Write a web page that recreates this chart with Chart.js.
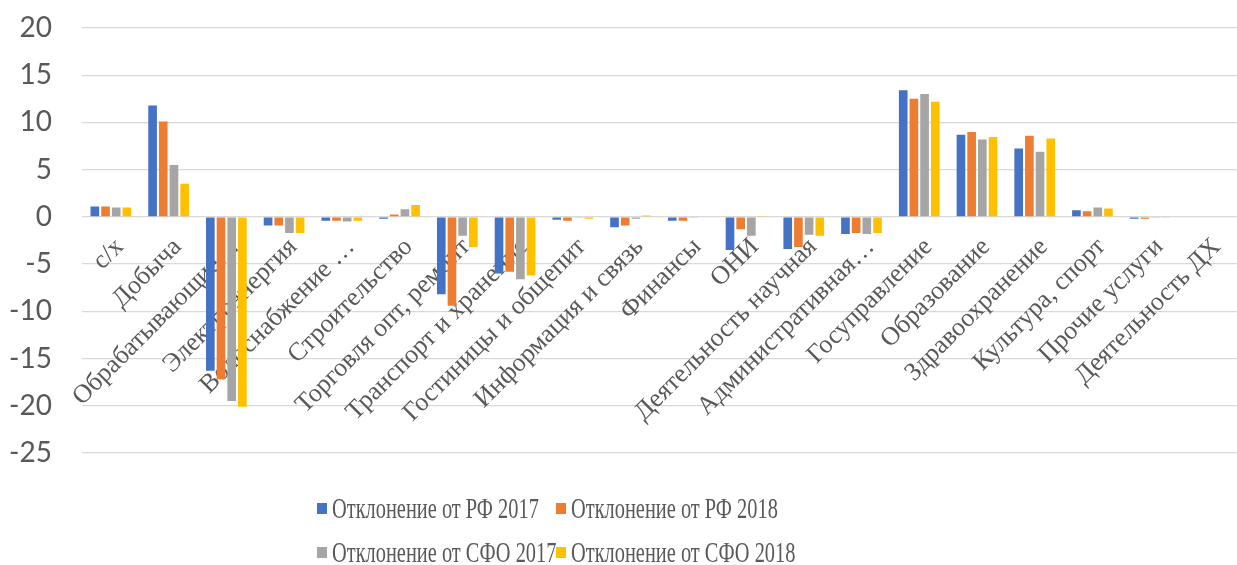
<!DOCTYPE html>
<html>
<head>
<meta charset="utf-8">
<script src="https://cdn.jsdelivr.net/npm/chart.js@4.4.1/dist/chart.umd.min.js"></script>
<style>
  body { margin: 0; background: #fff; width: 1237px; height: 565px; overflow: hidden; }
  #wrap { position: absolute; left: 0; top: 0; width: 1237px; height: 480px; }
  #legend { position: absolute; left: 0; top: 0; width: 1237px; height: 565px; pointer-events: none;
            font-family: "Liberation Serif", serif; color: #595959; font-size: 30px; }
  .item { position: absolute; display: flex; align-items: center; white-space: nowrap; }
  .sw { width: 10px; height: 11px; margin-right: 5px; flex: none; }
  .txt { display: inline-block; transform: scaleX(0.68); transform-origin: left center; }
</style>
</head>
<body>
<div id="wrap"><canvas id="chart" width="1237" height="480"></canvas></div>
<div id="legend"></div>
<script>
var categories = ["с/х", "Добыча", "Обрабатывающие…", "Электроэнергия", "Водоснабжение …",
  "Строительство", "Торговля опт, ремонт", "Транспорт и хранение", "Гостиницы и общепит",
  "Информация и связь", "Финансы", "ОНИ", "Деятельность научная", "Административная…",
  "Госуправление", "Образование", "Здравоохранение", "Культура, спорт", "Прочие услуги",
  "Деятельность ДХ"];

var rf2017  = [1.1, 11.8, -16.3, -0.9, -0.4, -0.2, -8.2, -6.0, -0.3, -1.1, -0.4, -3.5, -3.4, -1.8, 13.4, 8.7, 7.25, 0.7, -0.2, 0];
var rf2018  = [1.1, 10.1, -17.2, -0.9, -0.4, 0.25, -9.4, -5.8, -0.4, -0.9, -0.4, -1.3, -3.2, -1.7, 12.5, 9.0, 8.6, 0.6, -0.2, 0];
var sfo2017 = [1.0, 5.5, -19.5, -1.7, -0.5, 0.8, -2.0, -6.6, -0.05, -0.2, -0.1, -2.0, -1.9, -1.8, 13.0, 8.2, 6.9, 1.0, -0.05, 0];
var sfo2018 = [1.0, 3.5, -20.1, -1.7, -0.4, 1.25, -3.2, -6.2, -0.2, 0.15, 0, 0.05, -2.0, -1.7, 12.2, 8.45, 8.3, 0.9, -0.05, 0];

var seriesNames = ["Отклонение от РФ 2017", "Отклонение от РФ 2018", "Отклонение от СФО 2017", "Отклонение от СФО 2018"];
var colors = ["#4472C4", "#ED7D31", "#A5A5A5", "#FFC000"];
var values = [rf2017, rf2018, sfo2017, sfo2018];

var datasets = [];
for (var i = 0; i < values.length; i++) {
  datasets.push({
    label: seriesNames[i],
    data: values[i],
    backgroundColor: colors[i],
    categoryPercentage: 0.74,
    barPercentage: 0.81
  });
}

var ctx = document.getElementById("chart");
new Chart(ctx, {
  type: "bar",
  data: { labels: categories, datasets: datasets },
  options: {
    responsive: false,
    animation: false,
    layout: { padding: { top: 28, bottom: 27, left: 0, right: 0 } },
    plugins: { legend: { display: false }, tooltip: { enabled: false } },
    scales: {
      x: {
        position: { y: 0 },
        grid: { display: false },
        border: { display: false },
        ticks: {
          autoSkip: false, minRotation: 45, maxRotation: 45, padding: 7, labelOffset: 9,
          color: "#595959",
          font: { family: "Liberation Serif", size: 26 }
        }
      },
      y: {
        min: -25, max: 20,
        grid: { color: "#d9d9d9", lineWidth: 1.3, drawTicks: false },
        border: { display: false },
        ticks: {
          stepSize: 5, padding: 30, color: "#595959",
          font: { family: "Lato", size: 28 }
        },
        afterFit: function(scale) {
          scale.width = 82;
          scale.paddingTop = 0;
          scale.paddingBottom = 0;
        }
      }
    }
  }
});

// legend in two aligned columns
var legend = document.getElementById("legend");
var lx = [317, 556], ly = [508, 552];
for (var k = 0; k < seriesNames.length; k++) {
  var it = document.createElement("div");
  it.className = "item";
  it.style.left = lx[k % 2] + "px";
  it.style.top = (ly[Math.floor(k / 2)] - 18) + "px";
  it.style.height = "36px";
  it.innerHTML = '<span class="sw" style="background:' + colors[k] + '"></span><span class="txt">' + seriesNames[k] + '</span>';
  legend.appendChild(it);
}
</script>
</body>
</html>
